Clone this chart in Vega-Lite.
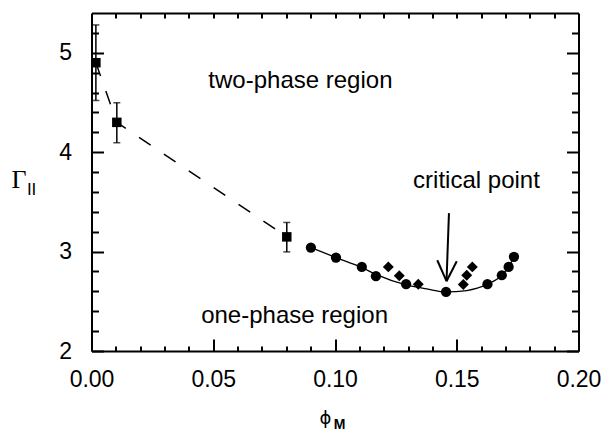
{
  "$schema": "https://vega.github.io/schema/vega-lite/v6.json",
  "width": 487,
  "height": 338,
  "autosize": {"type": "none"},
  "padding": {"left": 91.5, "top": 13, "right": 24.5, "bottom": 83},
  "background": "white",
  "config": {
    "view": {"stroke": null},
    "axis": {
      "grid": false,
      "domainColor": "black",
      "tickColor": "black",
      "labelColor": "black",
      "titleColor": "black",
      "domainWidth": 2,
      "tickWidth": 2,
      "labelFont": "Liberation Sans",
      "labelFontSize": 23,
      "labelFlush": false,
      "labelOverlap": false,
      "titleFont": "Liberation Sans"
    }
  },
  "datasets": {
    "squares": [
      {"phi": 0.0018, "gamma": 4.9, "lo": 4.52, "hi": 5.28},
      {"phi": 0.0104, "gamma": 4.3, "lo": 4.095, "hi": 4.497},
      {"phi": 0.0802, "gamma": 3.148, "lo": 2.997, "hi": 3.293}
    ],
    "circles": [
      {"phi": 0.0901, "gamma": 3.041},
      {"phi": 0.1004, "gamma": 2.94},
      {"phi": 0.1110, "gamma": 2.846},
      {"phi": 0.1168, "gamma": 2.752},
      {"phi": 0.1292, "gamma": 2.672},
      {"phi": 0.1456, "gamma": 2.594},
      {"phi": 0.1626, "gamma": 2.672},
      {"phi": 0.1685, "gamma": 2.762},
      {"phi": 0.1713, "gamma": 2.846},
      {"phi": 0.1735, "gamma": 2.947}
    ],
    "diamonds": [
      {"phi": 0.1219, "gamma": 2.846},
      {"phi": 0.1264, "gamma": 2.756},
      {"phi": 0.1342, "gamma": 2.672},
      {"phi": 0.1527, "gamma": 2.668},
      {"phi": 0.1541, "gamma": 2.762},
      {"phi": 0.1564, "gamma": 2.846}
    ],
    "curve": [
      {"phi": 0.0901, "gamma": 3.041},
      {"phi": 0.1004, "gamma": 2.94},
      {"phi": 0.1110, "gamma": 2.84},
      {"phi": 0.1168, "gamma": 2.77},
      {"phi": 0.1292, "gamma": 2.665},
      {"phi": 0.1377, "gamma": 2.625},
      {"phi": 0.1456, "gamma": 2.594},
      {"phi": 0.1541, "gamma": 2.608},
      {"phi": 0.1626, "gamma": 2.672},
      {"phi": 0.1685, "gamma": 2.762},
      {"phi": 0.1713, "gamma": 2.846},
      {"phi": 0.1735, "gamma": 2.947}
    ],
    "arrow": [
      {"phi": 0.1468, "gamma": 3.387, "phi2": 0.1458, "gamma2": 2.702},
      {"phi": 0.1420, "gamma": 2.913, "phi2": 0.1458, "gamma2": 2.702},
      {"phi": 0.1500, "gamma": 2.903, "phi2": 0.1458, "gamma2": 2.702}
    ],
    "notes": [
      {"phi": 0.0858, "gamma": 4.645, "text": "two-phase region"},
      {"phi": 0.0834, "gamma": 2.279, "text": "one-phase region"},
      {"phi": 0.1581, "gamma": 3.638, "text": "critical point"}
    ]
  },
  "layer": [
    {
      "data": {"name": "squares"},
      "mark": {"type": "rule", "color": "black", "strokeWidth": 1.5},
      "encoding": {
        "x": {"field": "phi", "type": "quantitative", "scale": {"domain": [0, 0.2], "nice": false, "zero": false}, "axis": null},
        "y": {"field": "lo", "type": "quantitative", "scale": {"domain": [2, 5.4], "nice": false, "zero": false}, "axis": null},
        "y2": {"field": "hi"}
      }
    },
    {
      "data": {"name": "squares"},
      "mark": {"type": "tick", "orient": "horizontal", "color": "black", "size": 7, "thickness": 1.5},
      "encoding": {
        "x": {"field": "phi", "type": "quantitative", "axis": null},
        "y": {"field": "lo", "type": "quantitative", "axis": null}
      }
    },
    {
      "data": {"name": "squares"},
      "mark": {"type": "tick", "orient": "horizontal", "color": "black", "size": 7, "thickness": 1.5},
      "encoding": {
        "x": {"field": "phi", "type": "quantitative", "axis": null},
        "y": {"field": "hi", "type": "quantitative", "axis": null}
      }
    },
    {
      "data": {"name": "squares"},
      "mark": {"type": "line", "color": "black", "strokeWidth": 1.5, "strokeDash": [14, 16]},
      "encoding": {
        "x": {"field": "phi", "type": "quantitative", "axis": null},
        "y": {"field": "gamma", "type": "quantitative", "axis": null}
      }
    },
    {
      "data": {"name": "curve"},
      "mark": {"type": "line", "color": "black", "strokeWidth": 1.3, "interpolate": "monotone"},
      "encoding": {
        "x": {"field": "phi", "type": "quantitative", "axis": null},
        "y": {"field": "gamma", "type": "quantitative",
          "axis": {"orient": "right", "values": [2.2, 2.4, 2.6, 2.8, 3.2, 3.4, 3.6, 3.8, 4.2, 4.4, 4.6, 4.8, 5.2], "tickSize": -7, "labels": false, "domain": false, "title": null}}
      }
    },
    {
      "data": {"name": "squares"},
      "mark": {"type": "square", "color": "black", "filled": true, "opacity": 1, "size": 90},
      "encoding": {
        "x": {"field": "phi", "type": "quantitative",
          "axis": {"orient": "bottom", "values": [0, 0.05, 0.1, 0.15, 0.2], "format": ".2f", "tickSize": -12, "labelPadding": 29, "domain": true,
            "title": "ϕ", "titleFont": "DejaVu Sans", "titleFontSize": 18, "titleFontWeight": "normal", "titleX": 233.5, "titleY": 67.5, "titleAlign": "center", "titleBaseline": "middle"}},
        "y": {"field": "gamma", "type": "quantitative",
          "axis": {"orient": "left", "values": [2, 3, 4, 5], "format": "d", "tickSize": -12, "labelPadding": 32, "domain": true,
            "title": "Γ", "titleFont": "Liberation Serif", "titleFontSize": 26, "titleFontWeight": "normal", "titleAngle": 0, "titleX": -73, "titleY": 174, "titleAlign": "center", "titleBaseline": "alphabetic"}}
      }
    },
    {
      "data": {"name": "circles"},
      "mark": {"type": "circle", "color": "black", "opacity": 1, "size": 105},
      "encoding": {
        "x": {"field": "phi", "type": "quantitative",
          "axis": {"orient": "bottom", "values": [0.01, 0.02, 0.03, 0.04, 0.06, 0.07, 0.08, 0.09, 0.11, 0.12, 0.13, 0.14, 0.16, 0.17, 0.18, 0.19], "tickSize": -5, "labels": false, "domain": false, "title": null}},
        "y": {"field": "gamma", "type": "quantitative",
          "axis": {"orient": "left", "values": [2.2, 2.4, 2.6, 2.8, 3.2, 3.4, 3.6, 3.8, 4.2, 4.4, 4.6, 4.8, 5.2], "tickSize": -7, "labels": false, "domain": false, "title": null}}
      }
    },
    {
      "data": {"name": "diamonds"},
      "mark": {"type": "point", "shape": "diamond", "color": "black", "filled": true, "opacity": 1, "size": 120},
      "encoding": {
        "x": {"field": "phi", "type": "quantitative",
          "axis": {"orient": "top", "values": [0.01, 0.02, 0.03, 0.04, 0.05, 0.06, 0.07, 0.08, 0.09, 0.1, 0.11, 0.12, 0.13, 0.14, 0.15, 0.16, 0.17, 0.18, 0.19], "tickSize": -5, "labels": false, "domain": true, "title": null}},
        "y": {"field": "gamma", "type": "quantitative",
          "axis": {"orient": "right", "values": [2, 3, 4, 5], "tickSize": -12, "labels": false, "domain": true, "title": null}}
      }
    },
    {
      "data": {"name": "arrow"},
      "mark": {"type": "rule", "color": "black", "strokeWidth": 2},
      "encoding": {
        "x": {"field": "phi", "type": "quantitative", "axis": null},
        "y": {"field": "gamma", "type": "quantitative", "axis": null},
        "x2": {"field": "phi2"},
        "y2": {"field": "gamma2"}
      }
    },
    {
      "data": {"name": "notes"},
      "mark": {"type": "text", "font": "Liberation Sans", "fontSize": 24, "color": "black", "align": "center", "baseline": "alphabetic"},
      "encoding": {
        "x": {"field": "phi", "type": "quantitative", "axis": null},
        "y": {"field": "gamma", "type": "quantitative", "axis": null},
        "text": {"field": "text"}
      }
    },
    {
      "data": {"values": [{"phi": -0.0246, "gamma": 3.568, "text": "II"}]},
      "mark": {"type": "text", "font": "Liberation Sans", "fontSize": 17, "color": "black", "align": "center", "baseline": "alphabetic"},
      "encoding": {
        "x": {"field": "phi", "type": "quantitative", "axis": null},
        "y": {"field": "gamma", "type": "quantitative", "axis": null},
        "text": {"field": "text"}
      }
    },
    {
      "data": {"values": [{"phi": 0.1019, "gamma": 1.212, "text": "M"}]},
      "mark": {"type": "text", "font": "Liberation Sans", "fontSize": 14, "fontWeight": "bold", "color": "black", "align": "center", "baseline": "alphabetic"},
      "encoding": {
        "x": {"field": "phi", "type": "quantitative", "axis": null},
        "y": {"field": "gamma", "type": "quantitative", "axis": null},
        "text": {"field": "text"}
      }
    }
  ],
  "resolve": {"axis": {"x": "independent", "y": "independent"}}
}
